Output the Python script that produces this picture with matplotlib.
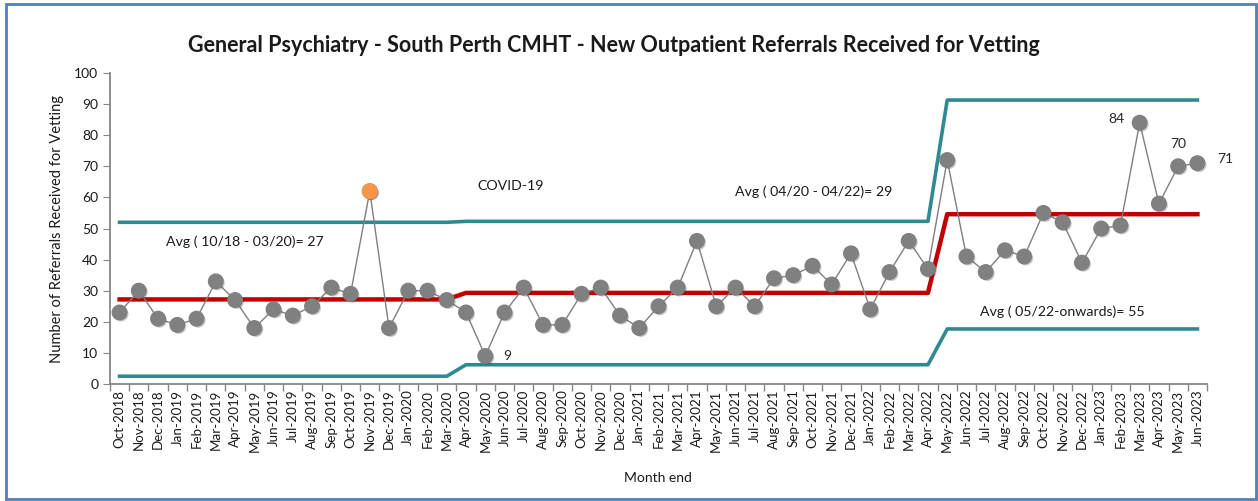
import matplotlib.pyplot as plt
from matplotlib.patches import Rectangle
import matplotlib.patheffects as pe
import numpy as np

plt.rcParams['font.family'] = ['Lato', 'DejaVu Sans']

months = ["Oct-2018", "Nov-2018", "Dec-2018",
          "Jan-2019", "Feb-2019", "Mar-2019", "Apr-2019", "May-2019", "Jun-2019",
          "Jul-2019", "Aug-2019", "Sep-2019", "Oct-2019", "Nov-2019", "Dec-2019",
          "Jan-2020", "Feb-2020", "Mar-2020", "Apr-2020", "May-2020", "Jun-2020",
          "Jul-2020", "Aug-2020", "Sep-2020", "Oct-2020", "Nov-2020", "Dec-2020",
          "Jan-2021", "Feb-2021", "Mar-2021", "Apr-2021", "May-2021", "Jun-2021",
          "Jul-2021", "Aug-2021", "Sep-2021", "Oct-2021", "Nov-2021", "Dec-2021",
          "Jan-2022", "Feb-2022", "Mar-2022", "Apr-2022", "May-2022", "Jun-2022",
          "Jul-2022", "Aug-2022", "Sep-2022", "Oct-2022", "Nov-2022", "Dec-2022",
          "Jan-2023", "Feb-2023", "Mar-2023", "Apr-2023", "May-2023", "Jun-2023"]

referrals = [23, 30, 21,
             19, 21, 33, 27, 18, 24, 22, 25, 31, 29, 62, 18,
             30, 30, 27, 23, 9, 23, 31, 19, 19, 29, 31, 22,
             18, 25, 31, 46, 25, 31, 25, 34, 35, 38, 32, 42,
             24, 36, 46, 37, 72, 41, 36, 43, 41, 55, 52, 39,
             50, 51, 84, 58, 70, 71]

# control limits per phase: (n months, mean, ucl, lcl)
phase_len = [18, 25, 14]
phase_mean = [27.2, 29.3, 54.6]
phase_ucl = [52.0, 52.3, 91.3]
phase_lcl = [2.5, 6.2, 17.7]

outlier_idx = [13]  # Nov-2019
labelled = {19: "9", 53: "84", 55: "70", 56: "71"}

mean_line = np.repeat(phase_mean, phase_len)
ucl_line = np.repeat(phase_ucl, phase_len)
lcl_line = np.repeat(phase_lcl, phase_len)

x = np.arange(len(months))

fig = plt.figure(figsize=(12.58, 5.01), dpi=100)
ax = fig.add_axes([0.0874, 0.2335, 0.8721, 0.6208])

teal = "#2E8A90"
ax.plot(x, ucl_line, color=teal, lw=2.6, zorder=2)
ax.plot(x, lcl_line, color=teal, lw=2.6, zorder=2)
ax.plot(x, mean_line, color="#C00000", lw=3.2, zorder=2)

shadow = [pe.SimplePatchShadow(offset=(1.2, -1.2), alpha=0.25), pe.Normal()]
ax.plot(x, referrals, color="#7F7F7F", lw=1.0, zorder=3)
ax.plot(x, referrals, ls="none", marker="o", ms=10.5, color="#808080",
        markeredgecolor="#808080", zorder=4, path_effects=shadow)
ax.plot(x[outlier_idx], np.array(referrals)[outlier_idx], ls="none", marker="o",
        ms=10.5, color="#F79646", markeredgecolor="#F79646", zorder=5,
        path_effects=shadow)

offsets = {19: (13, 0, "left", "center"), 53: (-11, 3, "right", "center"),
           55: (0, 12, "center", "bottom"), 56: (14, 3, "left", "center")}
for i, txt in labelled.items():
    dx, dy, ha, va = offsets[i]
    ax.annotate(txt, (x[i], referrals[i]), xytext=(dx, dy), textcoords="offset points",
                ha=ha, va=va, fontsize=10, color="#262626")

ax.text(2.4, 44.5, "Avg ( 10/18 - 03/20)= 27", fontsize=10.2, color="#1a1a1a")
ax.text(18.6, 62.5, "COVID-19", fontsize=10.2, color="#1a1a1a")
ax.text(32.0, 60.5, "Avg ( 04/20 - 04/22)= 29", fontsize=10.2, color="#1a1a1a")
ax.text(44.7, 22.0, "Avg ( 05/22-onwards)= 55", fontsize=10.2, color="#1a1a1a")

ax.set_xlim(-0.5, len(months) - 0.5)
ax.set_ylim(0, 100)
ax.set_yticks(range(0, 101, 10))
ax.set_xticks(x)
ax.set_xticklabels(months, rotation=90, fontsize=9.6, color="#1a1a1a")
ax.set_xticks(np.arange(-0.5, len(months), 1), minor=True)
ax.tick_params(axis="x", which="major", length=0, pad=4)
ax.tick_params(axis="x", which="minor", length=5, color="#868686", width=1)
ax.tick_params(axis="y", length=5, color="#868686", labelsize=10, labelcolor="#1a1a1a")

for s in ["top", "right"]:
    ax.spines[s].set_visible(False)
for s in ["left", "bottom"]:
    ax.spines[s].set_color("#868686")
    ax.spines[s].set_linewidth(1.3)

ax.set_ylabel("Number of Referrals Received for Vetting", fontsize=10.5, color="#1a1a1a", labelpad=7)
fig.text(0.523, 0.045, "Month end", ha="center", va="center", fontsize=10, color="#1a1a1a")
fig.text(0.488, 0.91, "General Psychiatry - South Perth CMHT - New Outpatient Referrals Received for Vetting",
         ha="center", va="center", fontsize=15.5, fontweight="bold", color="#1a1a1a")

fig.patches.append(Rectangle((6 / 1258, 2 / 501), 1250 / 1258, 495 / 501, transform=fig.transFigure,
                             fill=False, edgecolor="#4F81BD", lw=2))

fig.savefig("out.png", dpi=100)
